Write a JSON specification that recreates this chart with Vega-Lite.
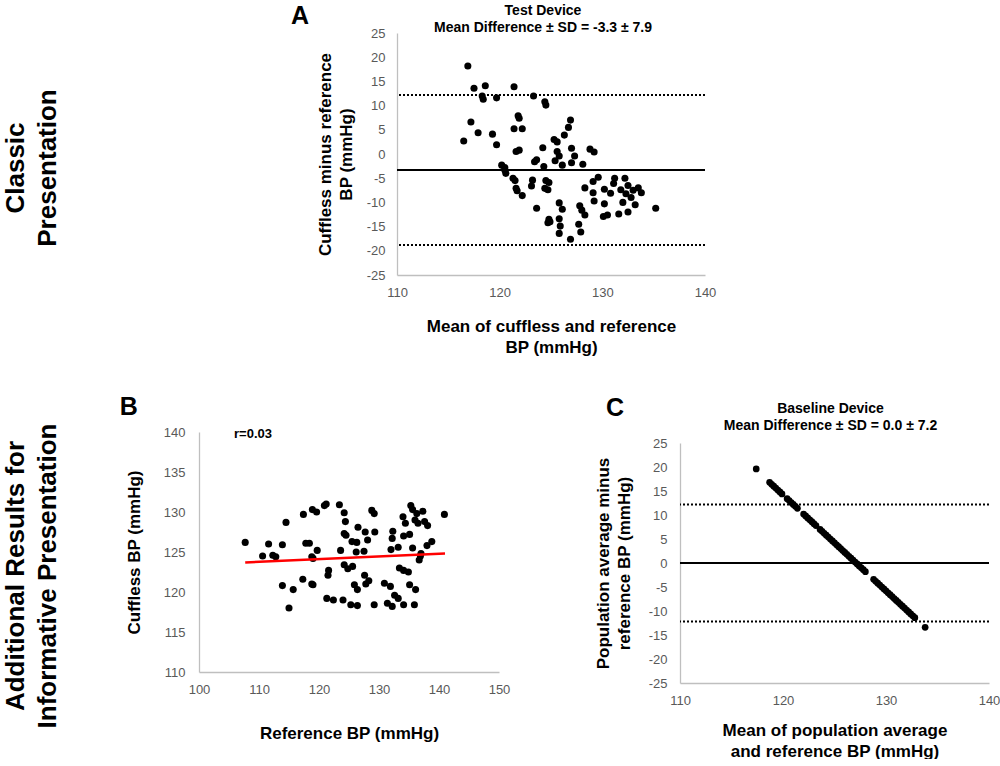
{
  "$schema": "https://vega.github.io/schema/vega-lite/v6.json",
  "padding": {"left": 2, "top": 4, "right": 0, "bottom": 0},
  "config": {
    "view": {"stroke": null},
    "font": "Liberation Sans",
    "axis": {"grid": false, "ticks": false, "domainColor": "#bfbfbf", "domainWidth": 1.3, "labelColor": "#595959", "labelFontSize": 13, "labelFont": "Liberation Sans", "titleFont": "Liberation Sans", "titleFontSize": 17, "titleFontWeight": "bold", "titleColor": "#000000", "titleLineHeight": 21, "labelFlush": false, "labelOverlap": false, "labelExpr": "(datum.value < 0 ? '-' : '') + abs(datum.value)"},
    "title": {"font": "Liberation Sans", "fontSize": 14, "fontWeight": "bold", "color": "#000000", "lineHeight": 17}
  },
  "datasets": {
    "testDevice": [
      {"mean": 116.9, "diff": 18.2}, {"mean": 117.5, "diff": 13.6}, {"mean": 118.6, "diff": 14.1}, {"mean": 118.3, "diff": 12.0},
      {"mean": 118.4, "diff": 11.3}, {"mean": 119.7, "diff": 11.6}, {"mean": 121.4, "diff": 13.9}, {"mean": 123.3, "diff": 12.0},
      {"mean": 124.4, "diff": 10.8}, {"mean": 124.5, "diff": 10.1}, {"mean": 117.2, "diff": 6.6}, {"mean": 116.5, "diff": 2.7},
      {"mean": 117.9, "diff": 4.4}, {"mean": 119.3, "diff": 4.1}, {"mean": 119.7, "diff": 1.9}, {"mean": 121.8, "diff": 7.9},
      {"mean": 121.9, "diff": 7.4}, {"mean": 121.4, "diff": 5.2}, {"mean": 122.2, "diff": 5.2}, {"mean": 121.6, "diff": 0.5},
      {"mean": 121.9, "diff": 0.8}, {"mean": 123.4, "diff": -1.6}, {"mean": 123.6, "diff": -1.2}, {"mean": 124.2, "diff": 1.3},
      {"mean": 120.2, "diff": -2.3}, {"mean": 120.5, "diff": -2.8}, {"mean": 124.3, "diff": -2.6}, {"mean": 120.5, "diff": -3.3},
      {"mean": 120.6, "diff": -4.0}, {"mean": 121.3, "diff": -5.0}, {"mean": 121.5, "diff": -5.5}, {"mean": 121.6, "diff": -7.1},
      {"mean": 121.7, "diff": -7.6}, {"mean": 122.2, "diff": -8.6}, {"mean": 123.2, "diff": -5.4}, {"mean": 123.1, "diff": -6.6},
      {"mean": 123.6, "diff": -11.2}, {"mean": 124.5, "diff": -5.5}, {"mean": 124.8, "diff": -5.9}, {"mean": 124.4, "diff": -7.1},
      {"mean": 124.7, "diff": -7.4}, {"mean": 125.3, "diff": 3.0}, {"mean": 125.6, "diff": 2.5}, {"mean": 125.4, "diff": -1.4},
      {"mean": 125.6, "diff": 0.5}, {"mean": 125.8, "diff": -0.4}, {"mean": 126.1, "diff": -2.3}, {"mean": 126.3, "diff": 3.9},
      {"mean": 126.7, "diff": 5.5}, {"mean": 126.9, "diff": 7.0}, {"mean": 127.0, "diff": 1.2}, {"mean": 127.3, "diff": -0.4},
      {"mean": 127.0, "diff": -1.8}, {"mean": 128.1, "diff": -2.1}, {"mean": 128.8, "diff": 1.0}, {"mean": 129.2, "diff": 0.4},
      {"mean": 125.8, "diff": -10.1}, {"mean": 126.1, "diff": -11.4}, {"mean": 124.8, "diff": -13.5}, {"mean": 124.9, "diff": -14.0},
      {"mean": 124.7, "diff": -14.2}, {"mean": 125.8, "diff": -13.4}, {"mean": 125.9, "diff": -14.9}, {"mean": 125.8, "diff": -16.4},
      {"mean": 126.9, "diff": -17.6}, {"mean": 127.8, "diff": -10.7}, {"mean": 128.0, "diff": -11.6}, {"mean": 128.3, "diff": -12.6},
      {"mean": 127.7, "diff": -14.5}, {"mean": 127.9, "diff": -16.1}, {"mean": 128.3, "diff": -7.0}, {"mean": 129.1, "diff": -5.7},
      {"mean": 129.6, "diff": -4.8}, {"mean": 129.1, "diff": -8.0}, {"mean": 129.2, "diff": -9.7}, {"mean": 130.2, "diff": -7.3},
      {"mean": 130.8, "diff": -8.1}, {"mean": 130.2, "diff": -10.3}, {"mean": 130.1, "diff": -12.9}, {"mean": 130.5, "diff": -12.6},
      {"mean": 131.2, "diff": -5.0}, {"mean": 131.1, "diff": -6.1}, {"mean": 131.6, "diff": -12.4}, {"mean": 131.8, "diff": -7.4},
      {"mean": 132.2, "diff": -5.0}, {"mean": 132.5, "diff": -6.5}, {"mean": 133.0, "diff": -7.5}, {"mean": 132.8, "diff": -9.0},
      {"mean": 133.5, "diff": -7.0}, {"mean": 132.0, "diff": -10.0}, {"mean": 133.2, "diff": -10.5}, {"mean": 132.5, "diff": -12.0},
      {"mean": 133.8, "diff": -8.0}, {"mean": 135.2, "diff": -11.2}, {"mean": 132.3, "diff": -8.2}
    ],
    "correlation": [
      {"ref": 107.7, "cuff": 126.2}, {"ref": 110.6, "cuff": 124.5}, {"ref": 111.6, "cuff": 126.0}, {"ref": 112.3, "cuff": 124.6},
      {"ref": 112.8, "cuff": 124.4}, {"ref": 113.9, "cuff": 125.9}, {"ref": 114.5, "cuff": 128.7}, {"ref": 113.9, "cuff": 120.8},
      {"ref": 115.7, "cuff": 120.3}, {"ref": 115.0, "cuff": 118.0}, {"ref": 117.4, "cuff": 129.7}, {"ref": 118.9, "cuff": 130.3},
      {"ref": 119.6, "cuff": 130.0}, {"ref": 120.9, "cuff": 130.8}, {"ref": 121.2, "cuff": 131.0}, {"ref": 117.8, "cuff": 126.1},
      {"ref": 118.4, "cuff": 126.1}, {"ref": 118.8, "cuff": 124.4}, {"ref": 119.7, "cuff": 125.2}, {"ref": 117.3, "cuff": 121.6},
      {"ref": 118.8, "cuff": 121.0}, {"ref": 121.6, "cuff": 122.7}, {"ref": 121.5, "cuff": 122.1}, {"ref": 121.3, "cuff": 119.2},
      {"ref": 122.4, "cuff": 119.0}, {"ref": 123.4, "cuff": 130.9}, {"ref": 123.6, "cuff": 125.2}, {"ref": 124.2, "cuff": 129.9},
      {"ref": 124.4, "cuff": 128.8}, {"ref": 124.2, "cuff": 127.3}, {"ref": 124.5, "cuff": 127.1}, {"ref": 126.5, "cuff": 128.1},
      {"ref": 127.7, "cuff": 127.5}, {"ref": 128.1, "cuff": 126.5}, {"ref": 129.3, "cuff": 127.5}, {"ref": 128.8, "cuff": 130.2},
      {"ref": 129.2, "cuff": 129.8}, {"ref": 125.5, "cuff": 126.3}, {"ref": 126.3, "cuff": 126.2}, {"ref": 126.2, "cuff": 125.0},
      {"ref": 127.5, "cuff": 125.1}, {"ref": 119.0, "cuff": 124.2}, {"ref": 124.2, "cuff": 123.4}, {"ref": 124.8, "cuff": 122.9},
      {"ref": 125.6, "cuff": 123.2}, {"ref": 119.0, "cuff": 120.9}, {"ref": 127.6, "cuff": 122.1}, {"ref": 128.3, "cuff": 121.4},
      {"ref": 127.8, "cuff": 121.0}, {"ref": 125.9, "cuff": 120.9}, {"ref": 126.4, "cuff": 120.3}, {"ref": 124.0, "cuff": 119.0},
      {"ref": 125.3, "cuff": 118.4}, {"ref": 126.4, "cuff": 118.3}, {"ref": 129.2, "cuff": 118.4}, {"ref": 130.9, "cuff": 121.1},
      {"ref": 131.9, "cuff": 120.7}, {"ref": 132.6, "cuff": 119.6}, {"ref": 133.2, "cuff": 119.2}, {"ref": 131.4, "cuff": 118.6},
      {"ref": 132.2, "cuff": 118.2}, {"ref": 134.1, "cuff": 118.4}, {"ref": 135.9, "cuff": 118.4}, {"ref": 133.4, "cuff": 123.0},
      {"ref": 134.1, "cuff": 122.7}, {"ref": 134.9, "cuff": 122.5}, {"ref": 135.1, "cuff": 120.9}, {"ref": 136.1, "cuff": 120.3},
      {"ref": 132.0, "cuff": 125.3}, {"ref": 133.2, "cuff": 125.6}, {"ref": 132.3, "cuff": 127.6}, {"ref": 132.2, "cuff": 126.7},
      {"ref": 134.1, "cuff": 127.0}, {"ref": 135.1, "cuff": 127.2}, {"ref": 134.0, "cuff": 129.4}, {"ref": 134.4, "cuff": 128.6},
      {"ref": 135.3, "cuff": 130.8}, {"ref": 135.6, "cuff": 130.3}, {"ref": 136.3, "cuff": 129.8}, {"ref": 137.3, "cuff": 130.1},
      {"ref": 136.0, "cuff": 129.0}, {"ref": 136.5, "cuff": 128.6}, {"ref": 137.6, "cuff": 128.8}, {"ref": 138.1, "cuff": 128.3},
      {"ref": 135.6, "cuff": 125.5}, {"ref": 136.9, "cuff": 124.5}, {"ref": 137.0, "cuff": 124.8}, {"ref": 136.7, "cuff": 124.0},
      {"ref": 138.0, "cuff": 125.8}, {"ref": 138.8, "cuff": 126.3}, {"ref": 140.9, "cuff": 129.7}
    ],
    "fitLine": [{"ref": 107.7, "cuff": 123.7}, {"ref": 141.0, "cuff": 124.8}],
    "baseline": [
      {"mean": 117.4, "diff": 19.6}, {"mean": 118.7, "diff": 16.8}, {"mean": 118.9, "diff": 16.4}, {"mean": 119.1, "diff": 16.0},
      {"mean": 119.3, "diff": 15.6}, {"mean": 119.5, "diff": 15.2}, {"mean": 119.7, "diff": 14.8}, {"mean": 119.9, "diff": 14.4},
      {"mean": 120.4, "diff": 13.4}, {"mean": 120.6, "diff": 13.0}, {"mean": 120.8, "diff": 12.6}, {"mean": 121.0, "diff": 12.2},
      {"mean": 121.2, "diff": 11.8}, {"mean": 121.4, "diff": 11.4}, {"mean": 122.0, "diff": 10.2}, {"mean": 122.2, "diff": 9.8},
      {"mean": 122.4, "diff": 9.4}, {"mean": 122.6, "diff": 9.0}, {"mean": 122.8, "diff": 8.6}, {"mean": 123.0, "diff": 8.2},
      {"mean": 123.2, "diff": 7.8}, {"mean": 123.6, "diff": 7.0}, {"mean": 123.8, "diff": 6.6}, {"mean": 124.0, "diff": 6.2},
      {"mean": 124.2, "diff": 5.8}, {"mean": 124.4, "diff": 5.4}, {"mean": 124.6, "diff": 5.0}, {"mean": 124.8, "diff": 4.6},
      {"mean": 125.0, "diff": 4.2}, {"mean": 125.2, "diff": 3.8}, {"mean": 125.4, "diff": 3.4}, {"mean": 125.6, "diff": 3.0},
      {"mean": 125.8, "diff": 2.6}, {"mean": 126.0, "diff": 2.2}, {"mean": 126.2, "diff": 1.8}, {"mean": 126.4, "diff": 1.4},
      {"mean": 126.6, "diff": 1.0}, {"mean": 126.8, "diff": 0.6}, {"mean": 127.0, "diff": 0.2}, {"mean": 127.2, "diff": -0.2},
      {"mean": 127.4, "diff": -0.6}, {"mean": 127.6, "diff": -1.0}, {"mean": 127.8, "diff": -1.4}, {"mean": 128.0, "diff": -1.8},
      {"mean": 128.8, "diff": -3.4}, {"mean": 129.0, "diff": -3.8}, {"mean": 129.2, "diff": -4.2}, {"mean": 129.4, "diff": -4.6},
      {"mean": 129.6, "diff": -5.0}, {"mean": 129.8, "diff": -5.4}, {"mean": 130.0, "diff": -5.8}, {"mean": 130.2, "diff": -6.2},
      {"mean": 130.4, "diff": -6.6}, {"mean": 130.6, "diff": -7.0}, {"mean": 130.8, "diff": -7.4}, {"mean": 131.0, "diff": -7.8},
      {"mean": 131.2, "diff": -8.2}, {"mean": 131.4, "diff": -8.6}, {"mean": 131.6, "diff": -9.0}, {"mean": 131.8, "diff": -9.4},
      {"mean": 132.0, "diff": -9.8}, {"mean": 132.2, "diff": -10.2}, {"mean": 132.4, "diff": -10.6}, {"mean": 132.6, "diff": -11.0},
      {"mean": 132.8, "diff": -11.4}, {"mean": 133.8, "diff": -13.4}
    ],
    "limitsTest": [{"diff": 12.2}, {"diff": -18.8}],
    "meanTest": [{"diff": -3.3}],
    "limitsBase": [{"diff": 12.2}, {"diff": -12.2}],
    "meanBase": [{"diff": 0.0}],
    "labelsA": [{"label": "A"}],
    "labelsB": [{"label": "B"}],
    "labelsC": [{"label": "C"}],
    "corrText": [{"label": "r=0.03"}],
    "rowTop": [{"lines": ["Classic", "Presentation"]}],
    "rowBottom": [{"lines": ["Additional Results for", "Informative Presentation"]}]
  },
  "spacing": 40,
  "vconcat": [
    {
      "spacing": 229,
      "hconcat": [
        {
          "width": 24,
          "height": 270,
          "data": {"name": "rowTop"},
          "mark": {"type": "text", "fontSize": 26, "fontWeight": "bold", "color": "#000000", "angle": 270, "lineHeight": 32, "baseline": "middle", "align": "center"},
          "encoding": {"text": {"field": "lines", "type": "nominal"}}
        },
        {
          "width": 308,
          "height": 242,
          "title": {"text": ["Test Device", "Mean Difference ± SD = -3.3 ± 7.9"], "dx": -8, "offset": -31},
          "layer": [
            {"data": {"name": "limitsTest"}, "mark": {"type": "rule", "strokeDash": [2, 2], "strokeWidth": 2, "color": "#000000"},
             "encoding": {"y": {"field": "diff", "type": "quantitative",
                                "axis": {"values": [-25, -20, -15, -10, -5, 0, 5, 10, 15, 20, 25], "title": ["Cuffless minus reference", "BP (mmHg)"], "labelPadding": 12, "titlePadding": 11, "labelOverlap": false}}}},
            {"data": {"name": "meanTest"}, "mark": {"type": "rule", "strokeWidth": 2, "color": "#000000"},
             "encoding": {"y": {"field": "diff", "type": "quantitative",
                                "axis": {"values": [-25, -20, -15, -10, -5, 0, 5, 10, 15, 20, 25], "title": ["Cuffless minus reference", "BP (mmHg)"], "labelPadding": 12, "titlePadding": 11, "labelOverlap": false}}}},
            {"data": {"name": "testDevice"}, "mark": {"type": "circle", "size": 50, "color": "#000000", "opacity": 1},
             "encoding": {
               "x": {"field": "mean", "type": "quantitative", "scale": {"domain": [110, 140], "nice": false, "zero": false},
                     "axis": {"values": [110, 120, 130, 140], "title": ["Mean of cuffless and reference", "BP (mmHg)"], "labelPadding": 11, "titlePadding": 19, "labelOverlap": false}},
               "y": {"field": "diff", "type": "quantitative", "scale": {"domain": [-25, 25], "nice": false, "zero": false},
                     "axis": {"values": [-25, -20, -15, -10, -5, 0, 5, 10, 15, 20, 25], "title": ["Cuffless minus reference", "BP (mmHg)"], "labelPadding": 12, "titlePadding": 11, "labelOverlap": false}}}},
            {"data": {"name": "labelsA"}, "mark": {"type": "text", "fontSize": 25, "fontWeight": "bold", "color": "#000000", "baseline": "middle", "align": "center"},
             "encoding": {"text": {"field": "label", "type": "nominal"},
               "x": {"datum": 100.55, "type": "quantitative",
                     "axis": {"values": [110, 120, 130, 140], "title": ["Mean of cuffless and reference", "BP (mmHg)"], "labelPadding": 11, "titlePadding": 19, "labelOverlap": false}},
               "y": {"datum": 28.5, "type": "quantitative",
                     "axis": {"values": [-25, -20, -15, -10, -5, 0, 5, 10, 15, 20, 25], "title": ["Cuffless minus reference", "BP (mmHg)"], "labelPadding": 12, "titlePadding": 11, "labelOverlap": false}}}}
          ]
        }
      ]
    },
    {
      "spacing": 57,
      "hconcat": [
        {
          "width": 24,
          "height": 288,
          "data": {"name": "rowBottom"},
          "mark": {"type": "text", "fontSize": 26, "fontWeight": "bold", "color": "#000000", "angle": 270, "lineHeight": 32, "baseline": "middle", "align": "center"},
          "encoding": {"text": {"field": "lines", "type": "nominal"}}
        },
        {
          "spacing": 84,
          "hconcat": [
            {
              "width": 300,
              "height": 240,
              "layer": [
                {"data": {"name": "correlation"}, "mark": {"type": "circle", "size": 50, "color": "#000000", "opacity": 1},
                 "encoding": {
                   "x": {"field": "ref", "type": "quantitative", "scale": {"domain": [100, 150], "nice": false, "zero": false},
                         "axis": {"values": [100, 110, 120, 130, 140, 150], "title": "Reference BP (mmHg)", "labelPadding": 11, "titlePadding": 29, "labelOverlap": false}},
                   "y": {"field": "cuff", "type": "quantitative", "scale": {"domain": [110, 140], "nice": false, "zero": false},
                         "axis": {"values": [110, 115, 120, 125, 130, 135, 140], "title": "Cuffless BP (mmHg)", "labelPadding": 14, "titlePadding": 20, "labelOverlap": false}}}},
                {"data": {"name": "fitLine"}, "mark": {"type": "line", "color": "#ff0000", "strokeWidth": 2.5},
                 "encoding": {
                   "x": {"field": "ref", "type": "quantitative",
                         "axis": {"values": [100, 110, 120, 130, 140, 150], "title": "Reference BP (mmHg)", "labelPadding": 11, "titlePadding": 29, "labelOverlap": false}},
                   "y": {"field": "cuff", "type": "quantitative",
                         "axis": {"values": [110, 115, 120, 125, 130, 135, 140], "title": "Cuffless BP (mmHg)", "labelPadding": 14, "titlePadding": 20, "labelOverlap": false}}}},
                {"data": {"name": "corrText"}, "mark": {"type": "text", "fontSize": 13, "fontWeight": "bold", "color": "#000000", "baseline": "middle", "align": "center"},
                 "encoding": {"text": {"field": "label", "type": "nominal"},
                   "x": {"datum": 109, "type": "quantitative",
                         "axis": {"values": [100, 110, 120, 130, 140, 150], "title": "Reference BP (mmHg)", "labelPadding": 11, "titlePadding": 29, "labelOverlap": false}},
                   "y": {"datum": 139.75, "type": "quantitative",
                         "axis": {"values": [110, 115, 120, 125, 130, 135, 140], "title": "Cuffless BP (mmHg)", "labelPadding": 14, "titlePadding": 20, "labelOverlap": false}}}},
                {"data": {"name": "labelsB"}, "mark": {"type": "text", "fontSize": 25, "fontWeight": "bold", "color": "#000000", "baseline": "middle", "align": "center"},
                 "encoding": {"text": {"field": "label", "type": "nominal"},
                   "x": {"datum": 88.3, "type": "quantitative",
                         "axis": {"values": [100, 110, 120, 130, 140, 150], "title": "Reference BP (mmHg)", "labelPadding": 11, "titlePadding": 29, "labelOverlap": false}},
                   "y": {"datum": 143.1, "type": "quantitative",
                         "axis": {"values": [110, 115, 120, 125, 130, 135, 140], "title": "Cuffless BP (mmHg)", "labelPadding": 14, "titlePadding": 20, "labelOverlap": false}}}}
              ]
            },
            {
              "width": 309,
              "height": 251,
              "title": {"text": ["Baseline Device", "Mean Difference ± SD = 0.0 ± 7.2"], "dx": -4, "offset": -37},
              "layer": [
                {"data": {"name": "limitsBase"}, "mark": {"type": "rule", "strokeDash": [2, 2], "strokeWidth": 2, "color": "#000000"},
                 "encoding": {"y": {"field": "diff", "type": "quantitative",
                                    "axis": {"values": [-25, -20, -15, -10, -5, 0, 5, 10, 15, 20, 25], "title": ["Population average minus", "reference BP (mmHg)"], "labelPadding": 13, "titlePadding": 15, "labelOverlap": false}}}},
                {"data": {"name": "meanBase"}, "mark": {"type": "rule", "strokeWidth": 2, "color": "#000000"},
                 "encoding": {"y": {"field": "diff", "type": "quantitative",
                                    "axis": {"values": [-25, -20, -15, -10, -5, 0, 5, 10, 15, 20, 25], "title": ["Population average minus", "reference BP (mmHg)"], "labelPadding": 13, "titlePadding": 15, "labelOverlap": false}}}},
                {"data": {"name": "baseline"}, "mark": {"type": "circle", "size": 45, "color": "#000000", "opacity": 1},
                 "encoding": {
                   "x": {"field": "mean", "type": "quantitative", "scale": {"domain": [110, 140], "nice": false, "zero": false},
                         "axis": {"values": [110, 120, 130, 140], "title": ["Mean of population average", "and reference BP (mmHg)"], "labelPadding": 11, "titlePadding": 15, "labelOverlap": false}},
                   "y": {"field": "diff", "type": "quantitative", "scale": {"domain": [-25, 25], "range": [251, 11], "nice": false, "zero": false},
                         "axis": {"values": [-25, -20, -15, -10, -5, 0, 5, 10, 15, 20, 25], "title": ["Population average minus", "reference BP (mmHg)"], "labelPadding": 13, "titlePadding": 15, "labelOverlap": false}}}},
                {"data": {"name": "labelsC"}, "mark": {"type": "text", "fontSize": 25, "fontWeight": "bold", "color": "#000000", "baseline": "middle", "align": "center"},
                 "encoding": {"text": {"field": "label", "type": "nominal"},
                   "x": {"datum": 103.7, "type": "quantitative",
                         "axis": {"values": [110, 120, 130, 140], "title": ["Mean of population average", "and reference BP (mmHg)"], "labelPadding": 11, "titlePadding": 15, "labelOverlap": false}},
                   "y": {"datum": 32.3, "type": "quantitative",
                         "axis": {"values": [-25, -20, -15, -10, -5, 0, 5, 10, 15, 20, 25], "title": ["Population average minus", "reference BP (mmHg)"], "labelPadding": 13, "titlePadding": 15, "labelOverlap": false}}}}
              ]
            }
          ]
        }
      ]
    }
  ]
}
